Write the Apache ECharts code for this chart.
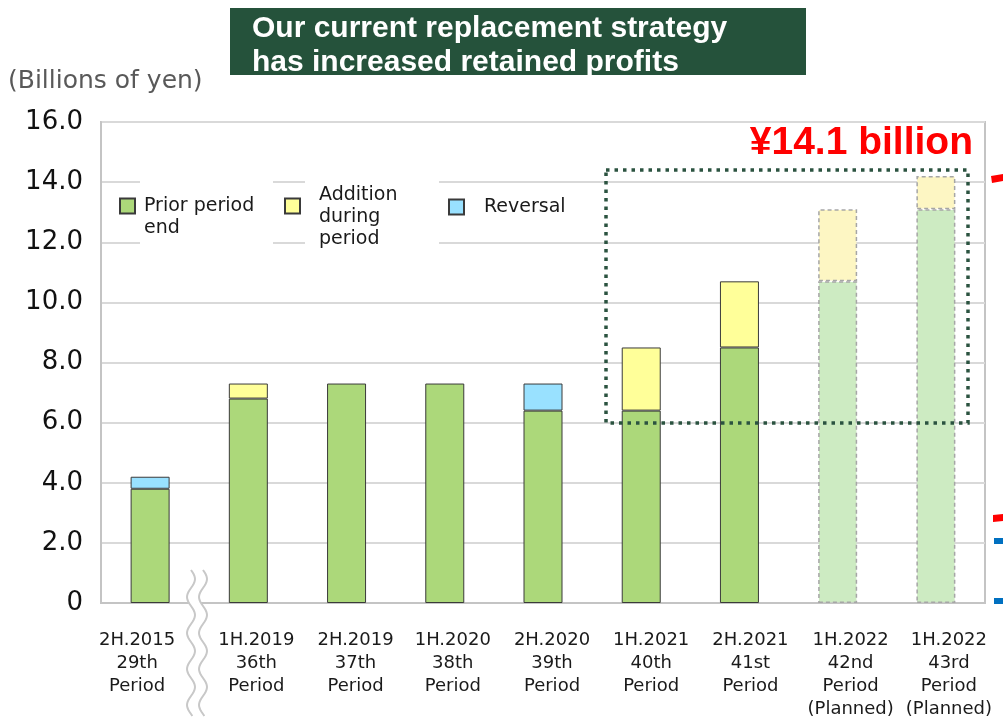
<!DOCTYPE html>
<html lang="en">
<head>
<meta charset="UTF-8">
<title>Retained profits</title>
<style>
    *{ margin: 0; padding: 0; }
    body{ background: #fff; }
    #chart{ width: 1003px; height: 722px; }
</style>
</head>
<body>
<div id="chart"></div>
<script src="https://cdn.jsdelivr.net/npm/echarts@6/dist/echarts.min.js"></script>
<script>
    // data
    var halves = ['2H.2015', '1H.2019', '2H.2019', '1H.2020', '2H.2020', '1H.2021', '2H.2021', '1H.2022', '1H.2022'];
    var periods = ['29th', '36th', '37th', '38th', '39th', '40th', '41st', '42nd', '43rd'];
    var planned = [false, false, false, false, false, false, false, true, true];
    var priorEnd = [3.8, 6.8, 7.3, 7.3, 6.4, 6.4, 8.5, 10.7, 13.1];
    var addition = [null, 0.5, null, null, null, 2.1, 2.2, 2.4, 1.1];
    var reversal = [0.4, null, null, null, 0.9, null, null, null, null];

    // the labels in the picture sit a little off the bar centres
    var labelShift = [-13, 8, 9, 8, 9, 10, 11, 13, 13];

    var categories = halves.map(function(h, i){
        return h + '\n' + periods[i] + '\nPeriod' + (planned[i] ? '\n(Planned)' : '');
    });

    var font = '"DejaVu Sans", Verdana, sans-serif';

    var labelRich = {};
    labelShift.forEach(function(s, i){
        labelRich['s' + i] = {
            fontFamily: font, fontSize: 18, color: '#1a1a1a', lineHeight: 23,
            padding: s > 0 ? [0, 0, 0, 2 * s] : [0, -2 * s, 0, 0]
        };
    });

    function build(values, color, lightColor){
        return values.map(function(v, i){
            if (v === null) return null;
            if (!planned[i]) return v;
            return {
                value: v,
                itemStyle: {
                    color: lightColor,
                    borderColor: '#a6a6a6',
                    borderType: [4, 3],
                    borderWidth: 1.5
                }
            };
        });
    }

    function wave(x0){
        var pts = [];
        for (var y = 570; y <= 716; y += 2) {
            pts.push([x0 + 4 * Math.sin((y - 570) / 36 * 2 * Math.PI), y]);
        }
        return pts;
    }

    var chart = echarts.init(document.getElementById('chart'));

    var barStyle = { borderColor: '#3a3a3a', borderWidth: 1 };

    var legendText = function(pad, w, bg){
        return {
            fontFamily: font, fontSize: 19, color: '#1a1a1a', lineHeight: 22,
            padding: pad, width: w, backgroundColor: bg
        };
    };

    var option = {
        backgroundColor: '#fff',
        animation: false,
        grid: {
            left: 101, right: 18, top: 122, bottom: 119,
            show: true, borderColor: '#c4c4c4', borderWidth: 2
        },
        legend: [{
            data: ['Prior period end'],
            left: 119, top: 166, padding: 0,
            icon: 'rect', itemWidth: 15, itemHeight: 15,
            formatter: function(){ return ' \nPrior period\nend'; },
            textStyle: legendText([6, 8, 8, 4], 121, '#fff')
        }, {
            data: ['Addition during period'],
            left: 284, top: 162, padding: 0,
            icon: 'rect', itemWidth: 15, itemHeight: 15,
            formatter: function(){ return ' \nAddition\nduring\nperiod'; },
            textStyle: legendText([0, 30, 0, 14], 90, '#fff')
        }, {
            data: ['Reversal'],
            left: 448, top: 196, padding: 0,
            icon: 'rect', itemWidth: 15, itemHeight: 15,
            textStyle: legendText([0, 0, 0, 15], 90, 'transparent')
        }],
        xAxis: {
            type: 'category',
            data: categories,
            axisLine: { lineStyle: { color: '#c4c4c4', width: 2 } },
            axisTick: { show: false },
            axisLabel: {
                interval: 0, margin: 26,
                fontFamily: font, fontSize: 18, color: '#1a1a1a', lineHeight: 23,
                formatter: function(value, index){
                    return value.split('\n').map(function(line){
                        return '{s' + index + '|' + line + '}';
                    }).join('\n');
                },
                rich: labelRich
            }
        },
        yAxis: {
            type: 'value',
            min: 0, max: 16, interval: 2,
            axisLine: { show: true, lineStyle: { color: '#c4c4c4', width: 2 } },
            splitLine: { lineStyle: { color: '#d9d9d9', width: 2 } },
            axisLabel: {
                margin: 18,
                fontFamily: font, fontSize: 26, color: '#111',
                formatter: function(v){ return v === 0 ? '0' : v.toFixed(1); }
            }
        },
        series: [{
            name: 'Prior period end', type: 'bar', stack: 'total', barWidth: 39,
            itemStyle: Object.assign({ color: '#acd87a' }, barStyle),
            data: build(priorEnd, '#acd87a', '#cdebc2')
        }, {
            name: 'Addition during period', type: 'bar', stack: 'total', barWidth: 39,
            itemStyle: Object.assign({ color: '#ffff99' }, barStyle),
            data: build(addition, '#ffff99', '#fdf6c3')
        }, {
            name: 'Reversal', type: 'bar', stack: 'total', barWidth: 39,
            itemStyle: Object.assign({ color: '#99e1ff' }, barStyle),
            data: build(reversal, '#99e1ff', '#ccf0ff')
        }],
        graphic: [{
            type: 'rect', shape: { x: 230, y: 8, width: 576, height: 67 },
            style: { fill: '#25523b' }, z: 10
        }, {
            type: 'text', left: 252, top: 12, z: 11,
            style: {
                text: 'Our current replacement strategy\nhas increased retained profits',
                fill: '#fff', font: 'bold 30px "Liberation Sans", Arial, sans-serif',
                lineHeight: 34
            }
        }, {
            type: 'text', left: 8, top: 69,
            style: { text: '(Billions of yen)', fill: '#595959', font: '25px ' + font }
        }, {
            type: 'text', right: 30, top: 124, z: 20,
            style: { text: '¥14.1 billion', fill: '#ff0000', font: 'bold 39px "Liberation Sans", Arial, sans-serif' }
        }, {
            type: 'rect', z: 100,
            shape: { x: 606, y: 170, width: 362, height: 253 },
            style: { fill: 'none', stroke: '#2b5340', lineWidth: 3.5, lineDash: [3.5, 5] }
        }, {
            type: 'polygon', z: 50,
            shape: { points: wave(191).concat(wave(203).reverse()).filter(function(p){ return p[1] < 612; }) },
            style: { fill: '#fff' }
        }, {
            type: 'polyline', z: 51, shape: { points: wave(191) },
            style: { stroke: '#c8c8c8', lineWidth: 2, fill: 'none' }
        }, {
            type: 'polyline', z: 51, shape: { points: wave(203) },
            style: { stroke: '#c8c8c8', lineWidth: 2, fill: 'none' }
        }, {
            type: 'polygon', shape: { points: [[991, 176], [1003, 174], [1003, 181], [992, 183]] },
            style: { fill: '#ff0000' }
        }, {
            type: 'polygon', shape: { points: [[993, 515], [1003, 514], [1003, 521], [993, 522]] },
            style: { fill: '#ff0000' }
        }, {
            type: 'rect', shape: { x: 994, y: 538, width: 9, height: 6 },
            style: { fill: '#0070c0' }
        }, {
            type: 'rect', shape: { x: 994, y: 598, width: 9, height: 6 },
            style: { fill: '#0070c0' }
        }]
    };

    chart.setOption(option);
</script>
</body>
</html>
